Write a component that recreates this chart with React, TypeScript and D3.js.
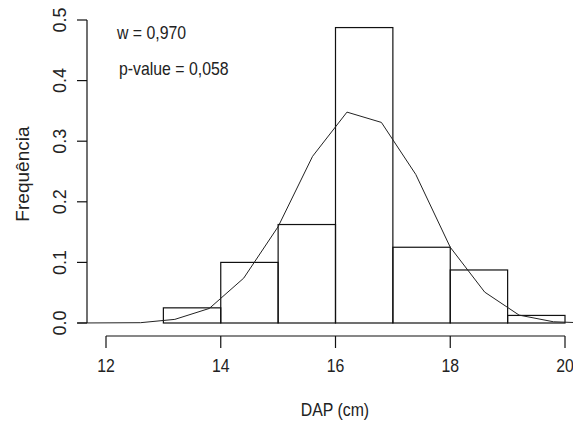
import React from 'react';
import * as d3 from 'd3';

// histogram bins (DAP classes, cm) and relative frequencies
const binEdges = [13, 14, 15, 16, 17, 18, 19, 20];
const binFreqs = [0.025, 0.1, 0.1625, 0.4875, 0.125, 0.0875, 0.0125];

// fitted curve
const curveX = [11.5, 12.6, 13.2, 13.8, 14.4, 15.0, 15.6, 16.2, 16.8, 17.4, 18.0, 18.6, 19.2, 19.8, 20.4];
const curveY = [0, 0.0005, 0.006, 0.024, 0.074, 0.159, 0.275, 0.348, 0.331, 0.245, 0.125, 0.051, 0.013, 0.002, 0];

const xTicks = [12, 14, 16, 18, 20];
const yTicks = [0, 0.1, 0.2, 0.3, 0.4, 0.5];

const statLines = ['w = 0,970', 'p-value = 0,058'];

const width = 573;
const height = 433;
const font = '"Liberation Sans", Arial, sans-serif';

const App = () => {
  // scales
  const x = d3.scaleLinear().domain([12, 20]).range([106, 565]);
  const y = d3.scaleLinear().domain([0, 0.5]).range([323, 20]);

  const axisY = 336; // x axis line position
  const axisX = 87; // y axis line position

  const bins = binFreqs.map((f, i) => ({ x0: binEdges[i], x1: binEdges[i + 1], f }));
  const curve = curveX.map((v, i) => [v, curveY[i]] as [number, number]);

  const line = d3
    .line<[number, number]>()
    .x(d => x(d[0]))
    .y(d => y(d[1]));

  // the picture's text is a bit narrow, squeeze it sideways
  const hText = 'scale(0.88,1)';

  return (
    <svg
      width={width}
      height={height}
      style={{ position: 'absolute', left: 0, top: 0, background: '#fff' }}
      fontFamily={font}
    >
      <rect width={width} height={height} fill="#fff" />

      {/* bars */}
      {bins.map((b, i) => (
        <rect
          key={i}
          x={x(b.x0)}
          y={y(b.f)}
          width={x(b.x1) - x(b.x0)}
          height={y(0) - y(b.f)}
          fill="none"
          stroke="#111"
          strokeWidth={1.2}
        />
      ))}

      {/* curve */}
      <path d={line(curve) || ''} fill="none" stroke="#222" strokeWidth={1} />

      {/* x axis */}
      <line x1={x(12)} x2={x(20)} y1={axisY} y2={axisY} stroke="#111" strokeWidth={1.2} />
      {xTicks.map(t => (
        <g key={t}>
          <line x1={x(t)} x2={x(t)} y1={axisY} y2={axisY + 12} stroke="#111" strokeWidth={1.2} />
          <text
            transform={`translate(${x(t)},${axisY + 36}) ${hText}`}
            textAnchor="middle"
            fontSize={18}
            fill="#222"
          >
            {t}
          </text>
        </g>
      ))}

      {/* y axis */}
      <line x1={axisX} x2={axisX} y1={y(0)} y2={y(0.5)} stroke="#111" strokeWidth={1.2} />
      {yTicks.map(t => (
        <g key={t}>
          <line x1={axisX - 10} x2={axisX} y1={y(t)} y2={y(t)} stroke="#111" strokeWidth={1.2} />
          <text
            transform={`translate(${axisX - 21},${y(t)}) rotate(-90)`}
            textAnchor="middle"
            fontSize={18}
            fill="#222"
          >
            {d3.format('.1f')(t)}
          </text>
        </g>
      ))}

      {/* axis titles */}
      <text
        transform={`translate(335,416) ${hText}`}
        textAnchor="middle"
        fontSize={18}
        fill="#222"
      >
        DAP (cm)
      </text>
      <text
        transform={`translate(29,174) rotate(-90) scale(1.06,1)`}
        textAnchor="middle"
        fontSize={18}
        fill="#222"
      >
        Frequência
      </text>

      {/* test statistics */}
      <text transform={`translate(117,39) ${hText}`} fontSize={18} fill="#222">
        {statLines[0]}
      </text>
      <text transform={`translate(119,75) ${hText}`} fontSize={18} fill="#222">
        {statLines[1]}
      </text>
    </svg>
  );
};

export default App;
